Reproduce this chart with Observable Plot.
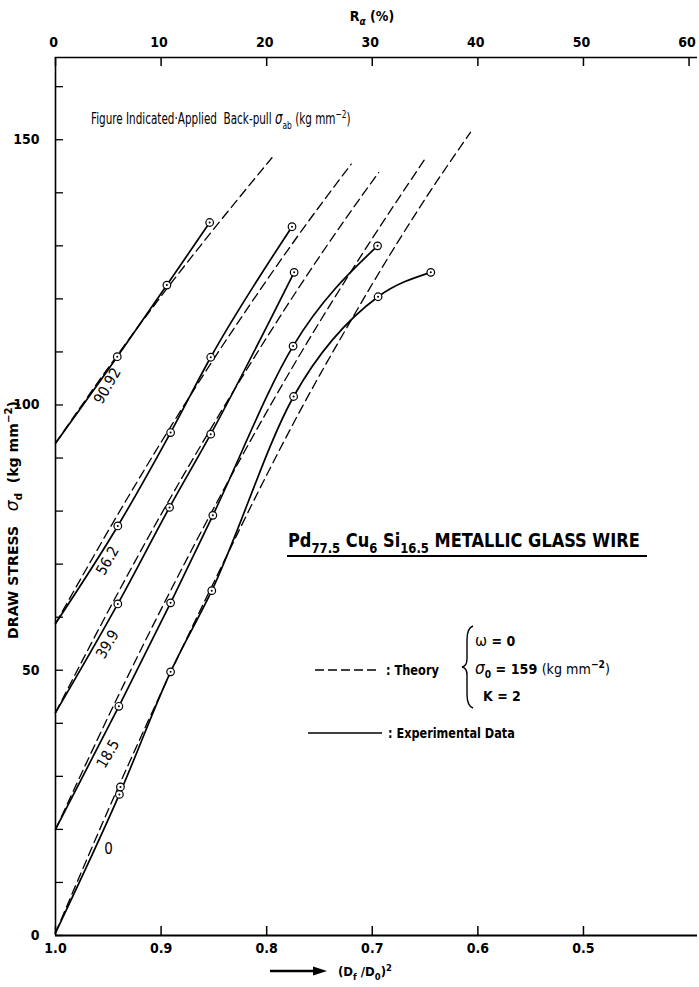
<!DOCTYPE html>
<html><head><meta charset="utf-8">
<script src="https://cdn.jsdelivr.net/npm/d3@7"></script>
<script src="https://cdn.jsdelivr.net/npm/@observablehq/plot@0.6"></script>
<style>
html,body{margin:0;padding:0;background:#fff}
svg{display:block}
</style></head><body><div id="chart"></div>
<script>
const FONT = '"Liberation Sans Narrow","DejaVu Sans Condensed","Roboto Condensed","Liberation Sans",sans-serif';

// Series names = applied back-pull (kg mm^-2)
const seriesNames = ["90.92", "56.2", "39.9", "18.5", "0"];

// Experimental data: x = (Df/D0)^2, y = draw stress (kg mm^-2)
const exp9092X = [1.0, 0.9415, 0.8945, 0.854];
const exp9092Y = [92.8, 109.1, 122.6, 134.4];
const exp562X = [1.0, 0.941, 0.891, 0.853, 0.776];
const exp562Y = [58.8, 77.2, 94.8, 109.0, 133.6];
const exp399X = [1.0, 0.941, 0.892, 0.853, 0.774];
const exp399Y = [42.0, 62.5, 80.7, 94.5, 125.0];
const exp185X = [1.0, 0.940, 0.891, 0.851, 0.775, 0.695];
const exp185Y = [20.0, 43.2, 62.7, 79.2, 111.1, 130.0];
const exp0X = [1.0, 0.9395, 0.9385, 0.891, 0.852, 0.7745, 0.6945, 0.6446];
const exp0Y = [0.5, 26.6, 28.0, 49.7, 65.0, 101.6, 120.4, 125.0];

// Theory curves (dashed)
const th9092X = [1.0, 0.94, 0.89, 0.85, 0.795];
const th9092Y = [92.8, 109.8, 123.1, 133.2, 146.6];
const th562X = [1.0, 0.94, 0.89, 0.85, 0.80, 0.77, 0.72];
const th562Y = [58.8, 79.7, 96.2, 108.7, 123.5, 132.0, 145.4];
const th399X = [1.0, 0.94, 0.89, 0.85, 0.80, 0.77, 0.72, 0.694];
const th399Y = [42.0, 64.9, 82.9, 96.5, 112.7, 122.0, 136.6, 143.8];
const th185X = [1.0, 0.94, 0.89, 0.85, 0.80, 0.77, 0.72, 0.70, 0.65];
const th185Y = [20.0, 45.4, 65.4, 80.6, 98.7, 109.0, 125.2, 131.4, 146.4];
const th0X = [1.0, 0.94, 0.89, 0.85, 0.80, 0.77, 0.72, 0.70, 0.65, 0.607];
const th0Y = [0.5, 28.2, 50.0, 66.6, 86.8, 98.3, 116.0, 122.8, 138.8, 151.4];

// Axes
const xDomain = [1.0, 0.392];
const yDomain = [0, 165.5];
const xTicks = [1.0, 0.9, 0.8, 0.7, 0.6, 0.5];
const rTicks = [0, 10, 20, 30, 40, 50, 60];           // R_alpha (%) top axis
const yMinorTicks = [0, 10, 20, 30, 40, 50, 60, 70, 80, 90, 100, 110, 120, 130, 140, 150, 160];
const yLabelTicks = [0, 50, 100, 150];

const expSets = [[exp9092X, exp9092Y], [exp562X, exp562Y], [exp399X, exp399Y], [exp185X, exp185Y], [exp0X, exp0Y]];
const thSets = [[th9092X, th9092Y], [th562X, th562Y], [th399X, th399Y], [th185X, th185Y], [th0X, th0Y]];

const expRows = expSets.flatMap(([xs, ys], k) => xs.map((x, i) => ({
  series: seriesNames[k], x, y: ys[i], i,
  // a repeat measurement almost on top of the previous one: marker only
  repeat: i > 0 && Math.abs(xs[i - 1] - x) < 0.002
})));
const thRows = thSets.flatMap(([xs, ys], k) => xs.map((x, i) => ({series: seriesNames[k], x, y: ys[i]})));
// label anchored at midpoint of first segment of each experimental line
const labelRows = expSets.map(([xs, ys], k) => ({
  name: seriesNames[k], x: (xs[0] + xs[1]) / 2, y: (ys[0] + ys[1]) / 2, rot: seriesNames[k] === "0" ? 0 : -60
}));

const W = 699, H = 987, mL = 55, mR = 2, mT = 57, mB = 52;
const fw = W - mL - mR, fh = H - mT - mB;

const plot = Plot.plot({
  width: W, height: H,
  marginLeft: mL, marginRight: mR, marginTop: mT, marginBottom: mB,
  style: {fontFamily: FONT, fontSize: "14px", color: "black", background: "white"},
  x: {domain: xDomain},
  y: {domain: yDomain},
  marks: [
    // frame lines
    Plot.ruleX([xDomain[0]], {stroke: "black", strokeWidth: 1.6}),
    Plot.ruleY([yDomain[0]], {stroke: "black", strokeWidth: 1.8}),
    Plot.ruleY([yDomain[1]], {stroke: "black", strokeWidth: 1.6}),
    // ticks (inward)
    Plot.tickX(xTicks, {x: d => d, insetTop: fh - 9, stroke: "black", strokeWidth: 1.5}),
    Plot.tickX(rTicks.map(r => 1 - r / 100), {x: d => d, insetBottom: fh - 9, stroke: "black", strokeWidth: 1.5}),
    Plot.tickY(yMinorTicks, {y: d => d, insetRight: fw - 8, stroke: "black", strokeWidth: 1.3}),
    // axis labels
    Plot.axisX(xTicks, {anchor: "bottom", tickSize: 0, tickPadding: 8, tickFormat: d3.format(".1f"), fontWeight: "bold", fontSize: 14, label: null}),
    Plot.axisX(rTicks.map(r => 1 - r / 100), {anchor: "top", tickSize: 0, tickPadding: 11, dx: -2, tickFormat: d => String(Math.round((1 - d) * 100)), fontWeight: "bold", fontSize: 14, label: null}),
    Plot.axisY(yLabelTicks, {anchor: "left", tickSize: 0, tickPadding: 16, fontWeight: "bold", fontSize: 14, label: null}),
    // theory (dashed)
    Plot.line(thRows, {x: "x", y: "y", z: "series", stroke: "black", strokeWidth: 1.3, strokeDasharray: "9,5", curve: "monotone-x"}),
    // experimental (solid)
    Plot.line(expRows.filter(d => !d.repeat), {x: "x", y: "y", z: "series", stroke: "black", strokeWidth: 1.7, curve: "monotone-x"}),
    Plot.dot(expRows.filter(d => d.i > 0), {x: "x", y: "y", r: 3.8, fill: "white", stroke: "black", strokeWidth: 1.2}),
    Plot.dot(expRows.filter(d => d.i > 0), {x: "x", y: "y", r: 1, fill: "black"}),
    // series labels
    Plot.text(labelRows, {x: "x", y: "y", text: "name", rotate: "rot", dx: 21, dy: -14, fontSize: 15, fill: "black"})
  ]
});
document.getElementById("chart").append(plot);

const svg = d3.select(plot);
function rich(x, y, parts, {size = 14, weight = "bold", anchor = "start", rotate = 0, len = null} = {}) {
  const g = svg.append("g").attr("transform", `translate(${x},${y}) rotate(${rotate})`);
  const t = g.append("text").attr("x", 0).attr("y", 0)
    .attr("font-size", size).attr("font-weight", weight).attr("text-anchor", anchor)
    .attr("font-family", FONT).attr("fill", "black").style("white-space", "pre");
  let shift = 0;
  for (const p of parts) {
    const target = p.sub ? size * 0.3 : p.sup ? -size * 0.42 : 0;
    const s = t.append("tspan").text(p.t).attr("dy", target - shift);
    shift = target;
    if (p.sub || p.sup) s.attr("font-size", size * 0.72);
    if (p.italic) s.attr("font-style", "italic");
    if (p.weight) s.attr("font-weight", p.weight);
    if (p.size) s.attr("font-size", p.size);
  }
  if (len) {
    const w = t.node().getComputedTextLength();
    if (w > 0) t.attr("transform", `scale(${len / w},1)`);
  }
  return t;
}

// top axis title
rich(372, 21, [{t: "R"}, {t: "α", sub: true, italic: true}, {t: " (%)"}], {anchor: "middle", size: 14});

// y axis title
rich(18, 520, [{t: "DRAW STRESS   "}, {t: "σ", italic: true, weight: "normal", size: 17}, {t: "d", sub: true}, {t: "  (kg mm"}, {t: "−2", sup: true}, {t: ")"}],
  {anchor: "middle", size: 14, rotate: -90, len: 238});

// bottom axis title with arrow
svg.append("line").attr("x1", 270).attr("x2", 316).attr("y1", 971).attr("y2", 971).attr("stroke", "black").attr("stroke-width", 2.6);
svg.append("polygon").attr("points", "313,966.5 327,971 313,975.5").attr("fill", "black");
rich(338, 976, [{t: "(D"}, {t: "f", sub: true}, {t: " /D"}, {t: "0", sub: true}, {t: ")"}, {t: "2", sup: true}], {size: 13});

// note
rich(91, 124, [{t: "Figure Indicated·Applied  Back-pull "}, {t: "σ", italic: true, size: 17}, {t: "ab", sub: true}, {t: " (kg mm"}, {t: "−2", sup: true}, {t: ")"}],
  {size: 15, weight: "normal", len: 260});

// title
rich(288, 547, [{t: "Pd"}, {t: "77.5", sub: true}, {t: " Cu"}, {t: "6", sub: true}, {t: " Si"}, {t: "16.5", sub: true}, {t: " METALLIC GLASS WIRE"}], {size: 20, len: 352});
svg.append("line").attr("x1", 287).attr("x2", 647).attr("y1", 556).attr("y2", 556).attr("stroke", "black").attr("stroke-width", 2.2);

// legend
svg.append("line").attr("x1", 315).attr("x2", 378).attr("y1", 670).attr("y2", 670).attr("stroke", "black").attr("stroke-width", 1.3).attr("stroke-dasharray", "9,4");
rich(386, 675, [{t: ": Theory"}], {size: 14, len: 53});
svg.append("path").attr("d", "M473,626 Q467,628 467,640 L467,659 Q467,666 462,667 Q467,668 467,675 L467,694 Q467,706 473,708")
  .attr("fill", "none").attr("stroke", "black").attr("stroke-width", 1.4);
rich(475, 646, [{t: "ω", weight: "normal", size: 16}, {t: " = 0"}], {size: 14});
rich(475, 674, [{t: "σ", italic: true, weight: "normal", size: 17}, {t: "0", sub: true}, {t: " = 159 "}, {t: "(kg mm", weight: "normal"}, {t: "−2", sup: true}, {t: ")", weight: "normal"}], {size: 14, len: 135});
rich(483, 701, [{t: "K = 2"}], {size: 14});
svg.append("line").attr("x1", 308).attr("x2", 382).attr("y1", 733).attr("y2", 733).attr("stroke", "black").attr("stroke-width", 1.7);
rich(388, 738, [{t: ": Experimental Data"}], {size: 14, len: 127});
</script>
</body></html>
